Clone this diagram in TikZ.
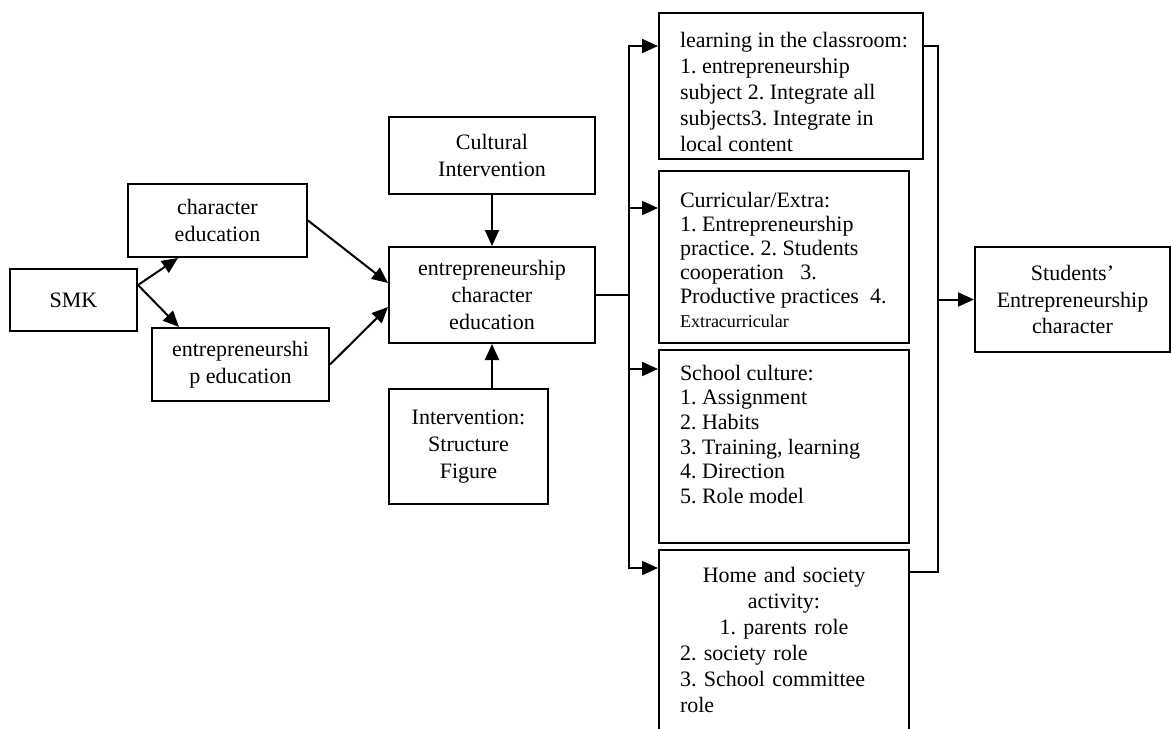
\documentclass[tikz,border=0pt]{standalone}
\usepackage{fontspec}
\setmainfont{Liberation Serif}
\usepackage{tikz}
\usetikzlibrary{arrows.meta}
\tikzset{every picture/.style={line width=1pt}}
\frenchspacing

\begin{document}
\begin{tikzpicture}[x=0.5pt,y=0.5pt,yscale=-1,xscale=1,
	box/.style={draw, rectangle, inner sep=0pt, align=center, font=\fontsize{11}{13.3}\selectfont},
	list/.style={anchor=north west, inner sep=0pt, align=left, font=\fontsize{11}{#1}\selectfont},
	arr/.style={-{Triangle[length=8pt,width=7pt]}}]
	\useasboundingbox (0,0) rectangle (1171,728);
	
	%Shape: Rectangle [id:smk] 
	\node [box, minimum width=63.5pt, minimum height=31pt] (smk) at (73.5,300) {SMK};
	%Shape: Rectangle [id:char] 
	\node [box, minimum width=89.5pt, minimum height=36.5pt] (char) at (217.5,220.5) {character\\education};
	%Shape: Rectangle [id:entre] 
	\node [box, minimum width=88.5pt, minimum height=36.5pt] (entre) at (240.5,364.5) {entrepreneurshi\\p education};
	%Shape: Rectangle [id:ece] 
	\node [box, minimum width=103pt, minimum height=48pt] (ece) at (492,295) {entrepreneurship\\character\\education};
	%Shape: Rectangle [id:cult] 
	\node [box, minimum width=103pt, minimum height=38.5pt] (cult) at (492,155.5) {Cultural\\Intervention};
	%Shape: Rectangle [id:interv] 
	\node [box, minimum width=79.5pt, minimum height=57.5pt] (interv) at (468.5,446.5) {Intervention:\\Structure\\Figure};
	%Shape: Rectangle [id:students] 
	\node [box, minimum width=97.5pt, minimum height=52.5pt] (students) at (1072.5,299.5) {Students’\\Entrepreneurship\\character};
	
	%Shape: Rectangle [id:learn] 
	\node [box, minimum width=132pt, minimum height=73pt] (learn) at (791,86) {};
	%Shape: Rectangle [id:curr] 
	\node [box, minimum width=125pt, minimum height=86pt] (curr) at (784,257) {};
	%Shape: Rectangle [id:school] 
	\node [box, minimum width=125pt, minimum height=96.5pt] (school) at (784,446.5) {};
	%Shape: Rectangle [id:home] 
	\node [box, minimum width=125pt, minimum height=90pt] (home) at (784,640) {};
	
	% Text Node
	\node [list=13pt] (learntxt) at ([xshift=10.5pt,yshift=9.5pt]learn.north west) {learning in the classroom:\\1. entrepreneurship\\subject 2. Integrate all\\subjects3. Integrate in\\local content};
	% Text Node
	\node [list=12pt] (currtxt) at ([xshift=10.5pt,yshift=10.5pt]curr.north west) {Curricular/Extra:\\1. Entrepreneurship\\practice. 2. Students\\cooperation\ \ \ 3.\\Productive practices\ \ 4.\\{\fontsize{9}{12}\selectfont Extracurricular}};
	% Text Node
	\node [list=12.3pt] (schooltxt) at ([xshift=10.5pt,yshift=7.5pt]school.north west) {School culture:\\1. Assignment\\2. Habits\\3. Training, learning\\4. Direction\\5. Role model};
	% Text Node
	\node [list=13pt, text width=104pt] (hometxt) at ([xshift=10.5pt,yshift=8.5pt]home.north west) {{\centering Home and society\\activity:\\1. parents role\par}2. society role\\3. School committee\\role};
	
	%Straight Lines [id:smk-char] 
	\draw [arr] ([yshift=-7.5pt]smk.east) -- ([xshift=-19.75pt]char.south);
	%Straight Lines [id:smk-entre] 
	\draw [arr] ([yshift=-7.5pt]smk.east) -- ([xshift=-30.75pt]entre.north);
	%Straight Lines [id:char-ece] 
	\draw [arr] (char.east) -- ([yshift=-6pt]ece.west);
	%Straight Lines [id:entre-ece] 
	\draw [arr] (entre.east) -- ([yshift=6pt]ece.west);
	%Straight Lines [id:cult-ece] 
	\draw [arr] (cult.south) -- (ece.north);
	%Straight Lines [id:interv-ece] 
	\draw [arr] (interv.north -| ece.south) -- (ece.south);
	
	% left bus
	\coordinate (busL) at ([xshift=16.5pt]ece.east);
	\coordinate (in1) at ([yshift=17pt]learn.north west);
	\coordinate (in2) at ([yshift=19pt]curr.north west);
	\coordinate (in3) at ([yshift=10pt]school.north west);
	\coordinate (in4) at ([yshift=9.5pt]home.north west);
	\draw (ece.east) -- (busL);
	\draw [arr] (in4 -| busL) -- (in1 -| busL) -- (in1);
	\draw [arr] (in2 -| busL) -- (in2);
	\draw [arr] (in3 -| busL) -- (in3);
	\draw [arr] (in1 -| busL) -- (in4 -| busL) -- (in4);
	
	% right bus
	\coordinate (busR) at ([xshift=7pt]learn.north east);
	\coordinate (out1) at ([yshift=17pt]learn.north east);
	\coordinate (out4) at ([yshift=11.5pt]home.north east);
	\draw (out1) -- (out1 -| busR) -- (out4 -| busR) -- (out4);
	\draw [arr] (students.west -| busR) -- (students.west);
	
\end{tikzpicture}
\end{document}
